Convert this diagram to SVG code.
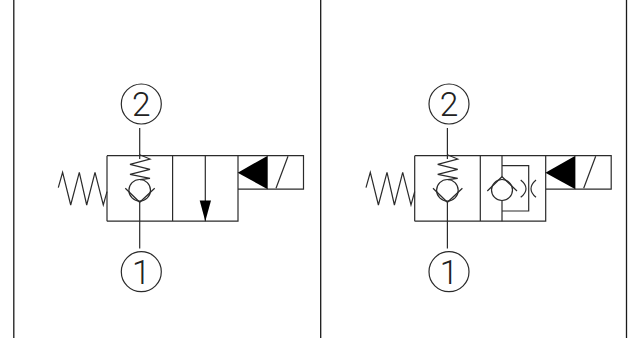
<svg xmlns="http://www.w3.org/2000/svg" width="640" height="338" viewBox="0 0 640 338">
<style>
.l{fill:none;stroke:#2b2b2b;stroke-width:1.2}
.b{fill:none;stroke:#1a1a1a;stroke-width:1.3}
.f{fill:#000;stroke:none}
.t{font-family:Roboto,"Liberation Sans",Arial,sans-serif;font-weight:300;font-size:33.500px;fill:#222;text-anchor:middle}
</style>
<defs>
<g id="valve">
<path class="l" d="M0 0H196.500V33.500H131M0 65.500H131V0M65.600 0V65.500M0 0V65.500"/>
<path class="l" d="M32.700 -27.700V3.300M32.700 46.600V92.800"/>
<path class="f" d="M130.700 17 160.700 0V33.500Z"/>
<path class="l" d="M169 32.600 181 0.600"/>
<path class="l" d="M-48.700 32-44.400 16.600-36.300 49.300-27.700 16.600-20.300 49.300-12 16.600-3.700 49.300 0 36"/>
<path class="l" d="M32.700 -1 43 3.300 23 8.600 43 13.600 23 18.600 43 22.600 33 24"/>
<circle class="l" cx="32.700" cy="34.600" r="10.800"/>
<path class="l" d="M18.300 32.600 32.700 46.600 47.700 32.600"/>
<circle class="l" cx="34.300" cy="-51.700" r="20"/>
<circle class="l" cx="34.300" cy="116" r="20"/>
<text class="t" x="34.300" y="-40">2</text>
<text class="t" x="34.300" y="128.300">1</text>
</g>
</defs>
<g id="frame">
<path class="b" d="M13.800 0V338M320.700 0V338M626.500 0V338"/>
</g>
<g id="valve-left" transform="translate(107 155.700)">
<use href="#valve"/>
<path class="l" d="M98.300 0V65.500"/>
<path class="f" d="M92.700 44.700H104L98.300 65.500Z"/>
</g>
<g id="valve-right" transform="translate(414.700 155.700)">
<use href="#valve"/>
<path class="l" d="M87.300 0V21M87.300 45V65.500M87.300 10H114V55.300H87.300"/>
<circle class="l" cx="87.300" cy="34.300" r="10.500"/>
<path class="l" d="M72.600 35.300 87.300 21 102.300 35.300"/>
<path class="l" d="M106 24.300Q116.600 33 106 41.600M121.300 24.300Q111.300 33 121.300 41.600"/>
</g>
</svg>
